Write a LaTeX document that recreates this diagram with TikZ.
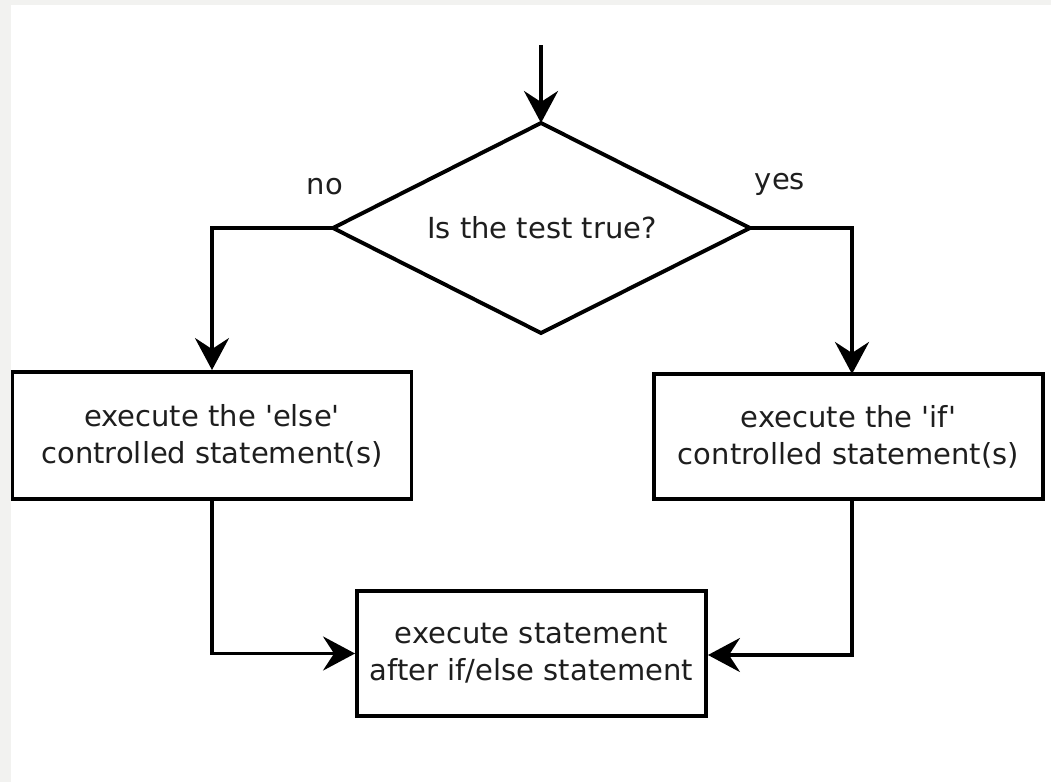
\documentclass[tikz,border=0pt]{standalone}
\usepackage{fontspec}
\newfontfamily\dv{DejaVu Sans}
\usetikzlibrary{arrows.meta}
\definecolor{bgframe}{HTML}{F2F2F0}
\definecolor{txt}{HTML}{1E1E1E}
\begin{document}
\begin{tikzpicture}[x=1pt,y=-1pt,
  line width=3.9pt,
  arr/.style={-{Stealth[length=32pt,width=34pt,inset=11pt]}},
  box/.style={draw,rectangle,inner sep=0pt,align=center,text=txt,
    font=\dv\fontsize{29}{37}\selectfont},
  lbl/.style={text=txt,font=\dv\fontsize{29}{34}\selectfont,inner sep=0pt}]
\fill[bgframe] (0,0) rectangle (1051,782);
\fill[white] (11,5) rectangle (1051,782);
\useasboundingbox (0,0) rectangle (1051,782);
% diamond
\coordinate (dt) at (541,123);
\coordinate (dl) at (333,228);
\coordinate (dr) at (750,228);
\coordinate (db) at (541,333);
\draw[line join=miter] (dt) -- (dr) -- (db) -- (dl) -- cycle;
\node[lbl] (q) at (542,228) {Is the test true?};
\coordinate (start) at (541,45);
\draw[arr] (start) -- (dt);
% boxes
\node[box,minimum width=399pt,minimum height=127pt] (elsebox) at (212,435.5)
  {execute the 'else'\\controlled statement(s)};
\node[box,minimum width=389pt,minimum height=125pt] (ifbox) at (848.5,436.5)
  {execute the 'if'\\controlled statement(s)};
\node[box,minimum width=349pt,minimum height=125pt] (after) at (531.5,653.5)
  {execute statement\\after if/else statement};
\coordinate (rt) at (852,228);
\coordinate (rin) at (852,374);
\coordinate (rout) at (852,499);
\coordinate (rb) at (852,655);
% connectors
\draw[arr] (dl) -- (elsebox.north |- dl) -- (elsebox.north);
\draw[arr] (dr) -- (rt) -- (rin);
\draw[arr] (elsebox.south) -- (elsebox.south |- after.west) -- (after.west);
\draw[arr] (rout) -- (rb) -- (after.east |- rb);
\node[lbl] (no) at (325,187) {no};
\node[lbl] (yes) at (780,184) {yes};
\end{tikzpicture}
\end{document}
